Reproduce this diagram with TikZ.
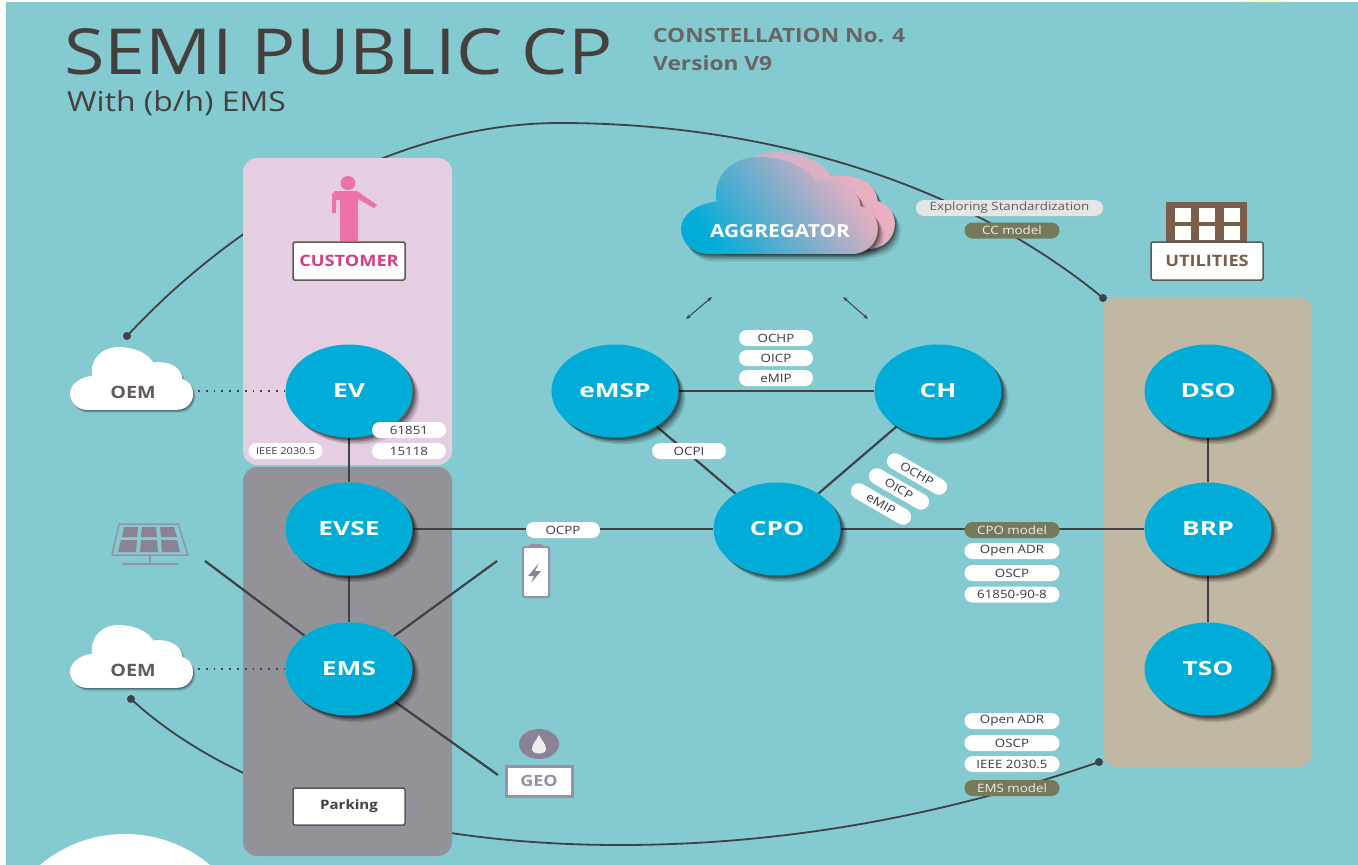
\documentclass[tikz,border=0pt]{standalone}
\usepackage{fontspec}
\setmainfont[FakeStretch=1.16]{Open Sans}
\newfontfamily\bubfont[FakeStretch=1.35]{Open Sans}
\usetikzlibrary{shapes.geometric,arrows.meta,backgrounds}
\definecolor{tealbg}{HTML}{84CAD1}
\definecolor{bub}{HTML}{00ADD8}
\definecolor{pinkbox}{HTML}{E5CDE2}
\definecolor{graybox}{HTML}{939298}
\definecolor{tanbox}{HTML}{C0B8A3}
\definecolor{wire}{HTML}{3F4147}
\definecolor{olive}{HTML}{76795A}
\definecolor{ink}{HTML}{453F3E}
\definecolor{pilltxt}{HTML}{3A3848}
\definecolor{brownu}{HTML}{7B5E49}
\definecolor{lav}{HTML}{9A90A6}
\definecolor{lavd}{HTML}{8B8296}
\definecolor{pers}{HTML}{EE72A7}
\definecolor{custt}{HTML}{D0427F}
\definecolor{cl1}{HTML}{F0AFC0}
\definecolor{clb}{HTML}{A9B4CF}
\pgfdeclarelayer{lower}
\pgfdeclarelayer{wires}
\pgfsetlayers{lower,wires,main}
\tikzset{
 bubble/.style={ellipse,fill=bub,minimum width=127pt,minimum height=93pt,inner sep=0pt,text=white,font=\bubfont\bfseries\fontsize{19.5}{19.5}\selectfont,
   preaction={fill=black,opacity=.10,transform canvas={shift={(7pt,-7pt)}}},
   preaction={fill=black,opacity=.14,transform canvas={shift={(5.5pt,-5.5pt)}}},
   preaction={fill=black,opacity=.20,transform canvas={shift={(4pt,-4pt)}}},
   preaction={fill=black,opacity=.30,transform canvas={shift={(2.5pt,-2.5pt)}}}},
 pill/.style={rounded corners=8pt,fill=white,minimum height=16pt,minimum width=74pt,inner sep=0pt,text=pilltxt,font=\fontsize{11.5}{11.5}\selectfont},
 slantpill/.style={pill,rotate=-30,minimum width=67pt},
 widepill/.style={pill,minimum width=95pt},
 olivepill/.style={widepill,fill=olive,text=white!88!olive},
 region/.style={rounded corners=14pt},
 wirel/.style={draw=wire,line width=2.2pt},
 dotl/.style={draw=wire,line width=1.8pt,dash pattern=on 1.8pt off 6pt},
 arcl/.style={draw=wire,line width=1.8pt},
 labelbox/.style={draw=black!65,line width=1.5pt,fill=white,rounded corners=1.5pt,inner sep=0pt,minimum width=112pt,minimum height=38pt,font=\bfseries\fontsize{15.7}{15.7}\selectfont},
 dotend/.style={circle,fill=wire,minimum size=8pt,inner sep=0pt},
 cloudtext/.style={font=\bfseries\fontsize{17}{17}\selectfont,text=ink!85!white},
}
\newcommand{\cloudshape}{(17,61) -- (110,61) .. controls (120,61) and (127,54) .. (127,45) .. controls (127,38) and (122,33) .. (116,31) .. controls (115,22) and (106,13) .. (86,15) .. controls (80,6) and (66,0) .. (50,0) .. controls (33,0) and (20,12) .. (23,28) .. controls (10,29) and (0,37) .. (0,45) .. controls (0,54) and (8,61) .. (17,61) -- cycle}
\newcommand{\cloudshadow}{\foreach \o/\a in {5/.06,4/.09,3/.13,2/.18,1/.25}{\fill[black,opacity=\a,shift={(\o*.8,\o)}] \cloudshape;}}
\begin{document}
\begin{tikzpicture}[x=1pt,y=-1pt]
\useasboundingbox (0,0) rectangle (1358,865);
\begin{pgfonlayer}{lower}
\fill[white] (0,0) rectangle (1358,865);
\fill[tealbg] (6,2) rectangle (1358,865);
\fill[yellow!45!white] (1232,2) .. controls (1250,0) and (1280,0) .. (1295,2) -- cycle;
\begin{scope}
\clip (6,2) rectangle (1358,865);
\fill[white] (125,966) circle[radius=132];
\end{scope}
\end{pgfonlayer}

% nodes
\node[bubble] (ev) at (349,391) {EV};
\node[bubble] (evse) at (349,529) {EVSE};
\node[bubble] (ems) at (349,669) {EMS};
\node[bubble] (emsp) at (615,391) {eMSP};
\node[bubble] (ch) at (938,391) {CH};
\node[bubble] (cpo) at (777,529) {CPO};
\node[bubble] (dso) at (1208,391) {DSO};
\node[bubble] (brp) at (1208,529) {BRP};
\node[bubble] (tso) at (1208,669) {TSO};

% clouds
\foreach \dy in {347,625}{
  \begin{scope}[shift={(70,\dy)},xscale=.97,yscale=1.03]
    \foreach \o/\a in {3/.10,2/.16,1/.25}{\fill[black,opacity=\a,shift={(\o*.8,\o)}] \cloudshape;}
    \fill[white] \cloudshape;
  \end{scope}
}
\node[cloudtext] (oem1) at (133,392) {OEM};
\node[cloudtext] (oem2) at (133,670) {OEM};
\coordinate (oem1p) at (198,391);
\coordinate (oem2p) at (198,669);

% aggregator
\begin{scope}[shift={(698,152)},xscale=1.55,yscale=1.59]
  \cloudshadow
  \shade[left color=clb,right color=cl1,shading angle=125] \cloudshape;
\end{scope}
\begin{scope}[shift={(681,157)},xscale=1.55,yscale=1.59]
  \cloudshadow
  \shade[left color=bub,right color=cl1,shading angle=125] \cloudshape;
\end{scope}
\node[text=white,font=\bfseries\fontsize{18}{18}\selectfont] (agg) at (780,231) {AGGREGATOR};
\coordinate (aggl) at (712,297);
\coordinate (aggr) at (843,297);
\coordinate (aggle) at (686,319);
\coordinate (aggre) at (868,319);

% customer
\fill[pers] (348,183) ellipse (7.5 and 7);
\fill[pers,line join=round] (335,191) -- (357,191) -- (377,205) -- (374,208) -- (358,199) -- (358,241) -- (340,241) -- (340,200) -- (336,200) -- (336,213) -- (332,213) -- (332,194) -- cycle;
\node[labelbox,text=custt] (customer) at (349,261) {CUSTOMER};
\node[labelbox,text=ink,font=\bfseries\fontsize{13}{13}\selectfont,minimum height=37pt] (parking) at (349,806.5) {Parking};

% utilities
\fill[brownu] (1166,202) rectangle (1247,243);
\foreach \x in {1174.5,1199,1223.5}\foreach \y in {208,226}{\fill[white] (\x,\y) rectangle ++(16,13.5);}
\node[labelbox,text=brownu] (utilities) at (1207,261) {UTILITIES};

% solar
\draw[lav,line width=1.5pt,line join=round] (119,524) -- (178,524) -- (188,555) -- (112,555) -- cycle;
\fill[lavd] (124,527) -- (138,527) -- (137,537) -- (122,537) -- cycle
 (142,527) -- (156,527) -- (157,537) -- (141,537) -- cycle
 (160,527) -- (174,527) -- (177,537) -- (161,537) -- cycle
 (121,540) -- (137,540) -- (136,552) -- (118,552) -- cycle
 (141,540) -- (157,540) -- (158,552) -- (140,552) -- cycle
 (161,540) -- (177,540) -- (180,552) -- (162,552) -- cycle;
\draw[lav,line width=2pt] (150,555) -- (150,564) (122,564) -- (178,564);
\coordinate (solarp) at (205,561);

% battery
\draw[lav,line width=2pt,fill=white,rounded corners=1pt] (523,547) rectangle (549,597);
\fill[lav,rounded corners=1.5pt] (529,547) -- (529,544) -- (543,544) -- (543,547) -- cycle;
\fill[lavd] (539,563) -- (528,576) -- (534,576) -- (531,583) -- (541,571) -- (535,571) -- cycle;
\coordinate (battp) at (497,561);

% geo
\fill[lavd] (539,744) ellipse (20 and 15);
\fill[white!85!lavd] (539,735) .. controls (536,741) and (532,744) .. (532,749) .. controls (532,755) and (546,755) .. (546,749) .. controls (546,744) and (542,741) .. (539,735) -- cycle;
\node[draw=lav,line width=3pt,fill=white,minimum width=66pt,minimum height=30pt,inner sep=0pt,text=lav,font=\bfseries\fontsize{15.5}{15.5}\selectfont] (geo) at (539,781) {GEO};
\coordinate (geop) at (498,775);

% dots
\coordinate (d1) at (127,336);
\coordinate (d2) at (1103,298);
\coordinate (d3) at (131,699);
\coordinate (d4) at (1099,762);

% regions and wires
\begin{pgfonlayer}{wires}
\draw[arcl] (d1) .. controls (230,225) and (390,123) .. (560,123) .. controls (760,123) and (960,180) .. (d2);
\draw[arcl] (d3) .. controls (230,790) and (400,845) .. (620,845) .. controls (800,845) and (960,810) .. (d4);
\fill[pinkbox,region] (243,158) rectangle (452,465);
\fill[graybox,region] (243,467) rectangle (452,856);
\fill[tanbox,region] (1103,297) rectangle (1312,767);
\draw[wirel] (ev) -- (evse);
\draw[wirel] (evse) -- (ems);
\draw[wirel] (evse) -- (cpo);
\draw[wirel] (emsp) -- (ch);
\draw[wirel] (emsp) -- (cpo);
\draw[wirel] (ch) -- (cpo);
\draw[wirel] (cpo) -- (brp);
\draw[wirel] (dso) -- (brp);
\draw[wirel] (brp) -- (tso);
\draw[dotl] (oem1p) -- (ev);
\draw[dotl] (oem2p) -- (ems);
\draw[wirel] (solarp) -- (ems);
\draw[wirel] (battp) -- (ems);
\draw[wirel] (geop) -- (ems);
\draw[wire,line width=1pt,{Stealth[length=5pt]}-{Stealth[length=5pt]}] (aggl) -- (aggle);
\draw[wire,line width=1pt,{Stealth[length=5pt]}-{Stealth[length=5pt]}] (aggr) -- (aggre);
\end{pgfonlayer}
\node[dotend] (dot1) at (d1) {};
\node[dotend] (dot2) at (d2) {};
\node[dotend] (dot3) at (d3) {};
\node[dotend] (dot4) at (d4) {};

% pills
\node[pill] (p1) at (776,338) {OCHP};
\node[pill] (p2) at (776,358) {OICP};
\node[pill] (p3) at (776,378) {eMIP};
\node[pill] (p4) at (409,430) {61851};
\node[pill] (p5) at (409,451) {15118};
\node[pill,font=\fontsize{9.5}{9.5}\selectfont] (p6) at (285.5,451) {IEEE 2030.5};
\node[pill] (p7) at (563,530) {OCPP};
\node[pill] (p8) at (689,451) {OCPI};
\node[slantpill] (p9) at (917,474) {OCHP};
\node[slantpill] (p10) at (899,489) {OICP};
\node[slantpill] (p11) at (881,504) {eMIP};
\node[olivepill] (p12) at (1012,530) {CPO model};
\node[widepill] (p13) at (1012,551) {Open ADR};
\node[widepill] (p14) at (1012,573) {OSCP};
\node[widepill] (p15) at (1012,594.5) {61850-90-8};
\node[widepill] (p16) at (1012,721) {Open ADR};
\node[widepill] (p17) at (1012,743) {OSCP};
\node[widepill] (p18) at (1012,764) {IEEE 2030.5};
\node[olivepill] (p19) at (1012,788) {EMS model};
\node[pill,minimum width=187pt,fill=black!10,text=ink!85!white] (p20) at (1009.5,208) {Exploring Standardization};
\node[olivepill] (p21) at (1012,230.5) {CC model};

% titles
\node[anchor=west,inner sep=0pt,text=ink,font=\fontsize{63.5}{63.5}\selectfont] (title) at (64,52) {SEMI PUBLIC CP};
\node[anchor=west,inner sep=0pt,text=ink,font=\fontsize{27.5}{27.5}\selectfont] (sub) at (67,103) {With (b/h) EMS};
\node[anchor=west,inner sep=0pt,text=ink!80!white,font=\bfseries\fontsize{19.6}{19.6}\selectfont] (con) at (653,36) {CONSTELLATION No. 4};
\node[anchor=west,inner sep=0pt,text=ink!80!white,font=\bfseries\fontsize{19.6}{19.6}\selectfont] (ver) at (653,63) {Version V9};
\end{tikzpicture}
\end{document}
